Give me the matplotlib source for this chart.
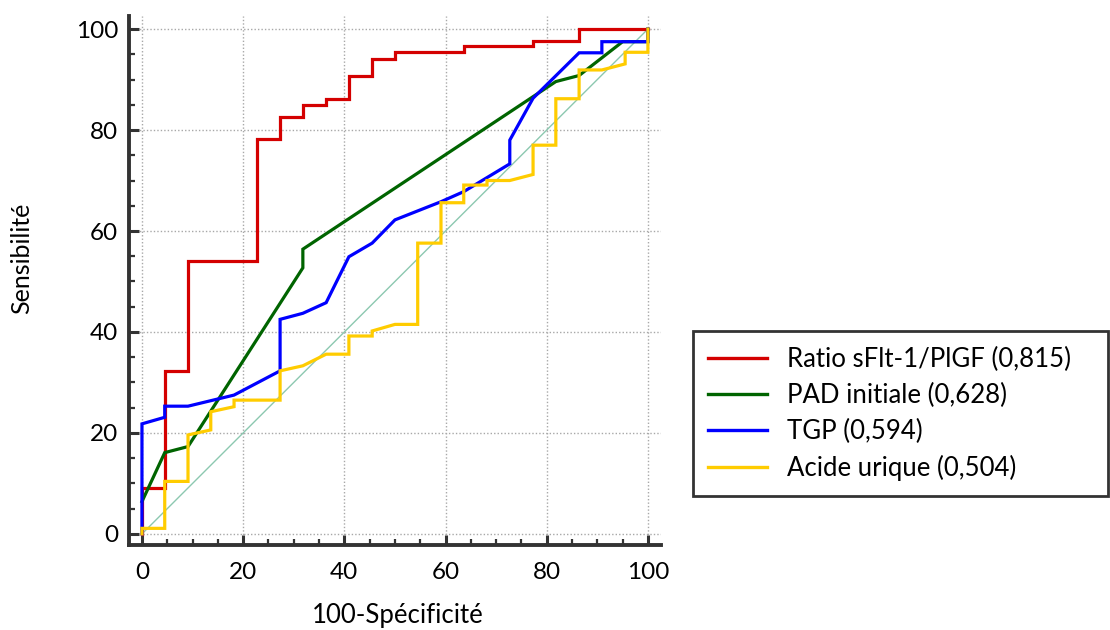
import matplotlib
matplotlib.use("Agg")
import matplotlib.pyplot as plt
from matplotlib.ticker import MultipleLocator

plt.rcParams['font.family'] = ['Lato', 'DejaVu Sans']

# ROC curves (x = 100-specificity, y = sensitivity)
red_x = [0, 0, 4.5, 4.5, 9.1, 9.1, 22.7, 22.7, 27.3, 27.3, 31.8, 31.8, 36.4, 36.4,
         40.9, 40.9, 45.5, 45.5, 50, 50, 63.6, 63.6, 77.3, 77.3, 86.4, 86.4, 100]
red_y = [0, 9.1, 9.1, 32.3, 32.3, 54.1, 54.1, 78.2, 78.2, 82.6, 82.6, 84.9, 84.9, 86.1,
         86.1, 90.8, 90.8, 94.1, 94.1, 95.4, 95.4, 96.6, 96.6, 97.6, 97.6, 100, 100]

green_x = [0, 4.5, 9.1, 31.8, 31.8, 81.8, 86.4, 95.0, 100, 100]
green_y = [6.4, 16.1, 17.3, 52.7, 56.4, 89.6, 90.8, 97.5, 97.5, 100]

blue_x = [0, 0, 4.5, 4.5, 9.1, 18.2, 27.3, 27.3, 31.8, 36.4, 40.9, 45.5, 50, 59.1,
          63.6, 72.7, 72.7, 77.3, 86.4, 90.9, 90.9, 100, 100]
blue_y = [0, 21.8, 23.1, 25.3, 25.3, 27.5, 32.3, 42.5, 43.7, 45.8, 54.9, 57.6, 62.2, 65.8,
          67.8, 73.3, 78.0, 86.3, 95.3, 95.3, 97.5, 97.5, 100]

yellow_x = [0, 0, 4.5, 4.5, 9.1, 9.1, 13.6, 13.6, 18.2, 18.2, 27.3, 27.3, 31.8, 36.4,
            40.9, 40.9, 45.5, 45.5, 50, 54.5, 54.5, 59.1, 59.1, 63.6, 63.6, 68.2, 68.2,
            72.7, 77.3, 77.3, 81.8, 81.8, 86.4, 86.4, 90.9, 95.5, 95.5, 100, 100]
yellow_y = [0, 1.1, 1.1, 10.4, 10.4, 19.6, 20.6, 24.2, 25.2, 26.5, 26.5, 32.3, 33.3, 35.6,
            35.6, 39.2, 39.2, 40.2, 41.5, 41.5, 57.6, 57.6, 65.6, 65.6, 69.1, 69.1, 70.0,
            70.0, 71.2, 77.0, 77.0, 86.2, 86.2, 91.9, 91.9, 93.1, 95.4, 95.4, 100]

labels = ['Ratio sFlt-1/PlGF (0,815)', 'PAD initiale (0,628)', 'TGP (0,594)', 'Acide urique (0,504)']
colors = ['#d40000', '#006400', '#0000ff', '#ffcc00']

fig = plt.figure(figsize=(11.1, 6.3), dpi=100)
ax = fig.add_axes([0.1165, 0.1349, 0.4786, 0.839])

ax.plot([0, 100], [0, 100], color='#8cc8b0', lw=1.0, zorder=2)
curves = [(red_x, red_y), (green_x, green_y), (blue_x, blue_y), (yellow_x, yellow_y)]
for (xs, ys), c, lab in zip(curves, colors, labels):
    ax.plot(xs, ys, color=c, lw=2.3, label=lab, zorder=3, solid_joinstyle='miter')

ax.set_xlim(-2.5, 102.5)
ax.set_ylim(-2.2, 102.5)
ax.xaxis.set_major_locator(MultipleLocator(20))
ax.yaxis.set_major_locator(MultipleLocator(20))
ax.xaxis.set_minor_locator(MultipleLocator(5))
ax.yaxis.set_minor_locator(MultipleLocator(5))
ax.grid(True, which='major', color='#a8a8a8', linestyle=(0, (1, 1.5)), lw=1.0)

for s in ['top', 'right']:
    ax.spines[s].set_visible(False)
for s in ['left', 'bottom']:
    ax.spines[s].set_linewidth(2.8)
    ax.spines[s].set_color('#333333')

ax.tick_params(which='major', direction='in', length=7, width=2.2, color='#333333', labelsize=17.5)
ax.tick_params(which='minor', direction='in', length=4, width=1.6, color='#333333')
ax.tick_params(axis='x', which='major', pad=12)
ax.tick_params(axis='y', which='major', pad=8)

fig.text(398 / 1110, 1 - 615 / 630, '100-Spécificité', ha='center', va='center', fontsize=18.5)
fig.text(22 / 1110, 1 - 258 / 630, 'Sensibilité', ha='center', va='center', rotation=90, fontsize=18)

leg = fig.legend(loc='lower left', bbox_to_anchor=(0.6243, 0.2127, 0.3739, 0.2587),
                 bbox_transform=fig.transFigure, mode='expand', borderaxespad=0,
                 fontsize=18.5, handlelength=2.3, handletextpad=0.75, labelspacing=0.42,
                 borderpad=0.6, fancybox=False, framealpha=1)
leg.get_frame().set_edgecolor('#333333')
leg.get_frame().set_linewidth(2.0)
for ln in leg.get_lines():
    ln.set_linewidth(2.4)

fig.savefig('out.png', dpi=100)
